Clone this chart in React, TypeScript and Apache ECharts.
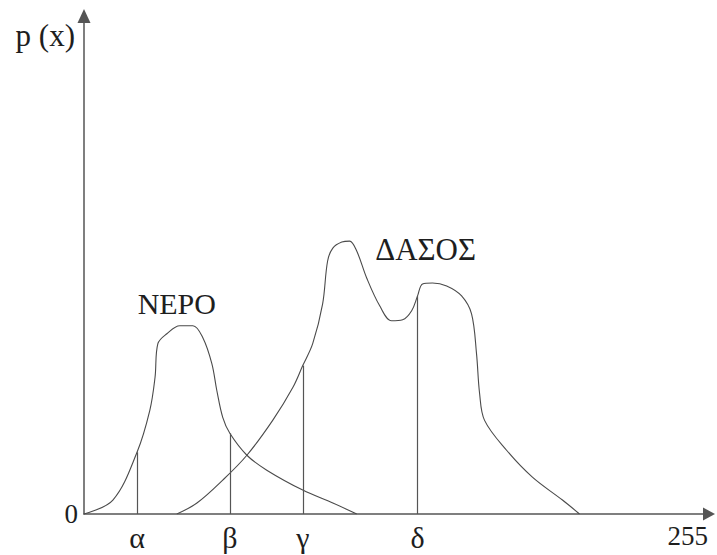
import { useEffect, useRef } from "react";
import * as echarts from "echarts";

// Gray level (x) and relative frequency p(x)
const waterX = [0, 12.2, 22.4, 27.8, 30.0, 31.2, 35.0, 40.5, 46.0, 50.2, 54.0, 56.1, 58.6, 61.6, 68.8, 77.2, 92.4, 105.1, 115.2];
const waterY = [0, 2.8, 12.4, 20.8, 27.4, 34.2, 36.2, 37.8, 37.8, 35.4, 30.2, 24.8, 19.4, 16.2, 11.8, 8.8, 4.8, 2.2, 0];

const forestX = [39.2, 47.7, 58.6, 68.8, 79.7, 88.2, 92.4, 96.6, 100.8, 102.9, 105.1, 108.9, 112.2, 115.2, 119.4, 124.9, 129.9, 134.6, 138.4, 140.9, 143.0, 147.2, 153.2, 159.5, 163.7, 165.8, 167.1, 169.2, 178.5, 189.4, 202.1, 209.3];
const forestY = [0, 2.2, 6.8, 11.8, 18.8, 25.4, 29.8, 34.2, 42.2, 50.8, 53.4, 54.6, 54.8, 52.8, 47.4, 41.8, 38.8, 39.0, 40.8, 43.8, 46.2, 46.4, 45.8, 43.8, 40.2, 32.2, 24.2, 18.8, 12.8, 7.4, 2.8, 0];

const markerNames = ["α", "β", "γ", "δ"];
const markerX = [22.4, 61.6, 92.4, 140.9];
const markerY = [12.4, 16.2, 29.8, 43.8];

const waterName = "ΝΕΡΟ";
const forestName = "ΔΑΣΟΣ";
const waterLabelPos = [39.2, 42.2];
const forestLabelPos = [144.3, 53.2];

const xEndLabel = 255;
const yAxisName = "p (x)";

const FONT = "'Liberation Serif', 'DejaVu Serif', serif";
const TEXT = "#1e1e1e";
const LINE = "#4a4a4a";

export default function App() {
  const ref = useRef<HTMLDivElement>(null);
  useEffect(() => {
    if (!ref.current) return;
    const chart = echarts.init(ref.current, null, { renderer: "svg" });
    const zip = (xs: number[], ys: number[]) => xs.map((x, i) => [x, ys[i]]);
    chart.setOption({
      animation: false,
      backgroundColor: "#ffffff",
      grid: { left: 84, right: 8, top: 16, bottom: 41 },
      xAxis: {
        type: "value",
        min: 0,
        max: 264,
        splitLine: { show: false },
        axisTick: { show: false },
        axisLine: {
          show: true,
          lineStyle: { color: "#555", width: 1.5 },
          symbol: ["none", "triangle"],
          symbolSize: [13, 12],
        },
        axisLabel: {
          customValues: [...markerX, xEndLabel],
          formatter: (v: number) => {
            const i = markerX.indexOf(v);
            if (i >= 0) return "{g|" + markerNames[i] + "}";
            if (v === xEndLabel) return "{n|" + String(xEndLabel) + "}";
            return "";
          },
          rich: {
            g: { fontFamily: FONT, fontSize: 30, color: TEXT },
            n: { fontFamily: FONT, fontSize: 27, color: TEXT },
          },
          fontFamily: FONT,
          fontSize: 28,
          color: TEXT,
          margin: 8,
        },
      },
      yAxis: {
        type: "value",
        min: 0,
        max: 100,
        interval: 100,
        name: yAxisName,
        nameLocation: "end",
        nameGap: -19,
        nameTextStyle: {
          fontFamily: FONT,
          fontSize: 31,
          color: TEXT,
          align: "right",
          verticalAlign: "middle",
          padding: [0, 9, 0, 0],
        },
        splitLine: { show: false },
        axisTick: { show: false },
        axisLine: {
          show: true,
          lineStyle: { color: "#555", width: 1.5 },
          symbol: ["none", "triangle"],
          symbolSize: [13, 14],
        },
        axisLabel: {
          formatter: (v: number) => (v === 0 ? "0" : ""),
          fontFamily: FONT,
          fontSize: 27,
          color: TEXT,
          margin: 6,
          padding: [16, 0, 0, 0],
        },
      },
      series: [
        {
          type: "line",
          name: waterName,
          data: zip(waterX, waterY),
          smooth: 0.35,
          showSymbol: false,
          lineStyle: { color: LINE, width: 1.1 },
          markPoint: {
            symbolSize: 0,
            silent: true,
            label: {
              show: true,
              position: "inside",
              formatter: "{b}",
              fontFamily: FONT,
              fontSize: 30,
              color: TEXT,
            },
            data: [{ name: waterName, coord: waterLabelPos }],
          },
        },
        {
          type: "line",
          name: forestName,
          data: zip(forestX, forestY),
          smooth: 0.35,
          showSymbol: false,
          lineStyle: { color: LINE, width: 1.1 },
          markPoint: {
            symbolSize: 0,
            silent: true,
            label: {
              show: true,
              position: "inside",
              formatter: "{b}",
              fontFamily: FONT,
              fontSize: 31,
              color: TEXT,
            },
            data: [{ name: forestName, coord: forestLabelPos }],
          },
        },
        {
          type: "line",
          name: "thresholds",
          data: [],
          markLine: {
            silent: true,
            symbol: ["none", "none"],
            label: { show: false },
            lineStyle: { type: "solid", color: "#555", width: 1.2 },
            data: markerX.map((x, i) => [{ coord: [x, 0] }, { coord: [x, markerY[i]] }]),
          },
        },
      ],
    });
    return () => chart.dispose();
  }, []);
  return (
    <div
      ref={ref}
      style={{ position: "fixed", left: 0, top: 0, width: 717, height: 555, background: "#fff" }}
    />
  );
}
